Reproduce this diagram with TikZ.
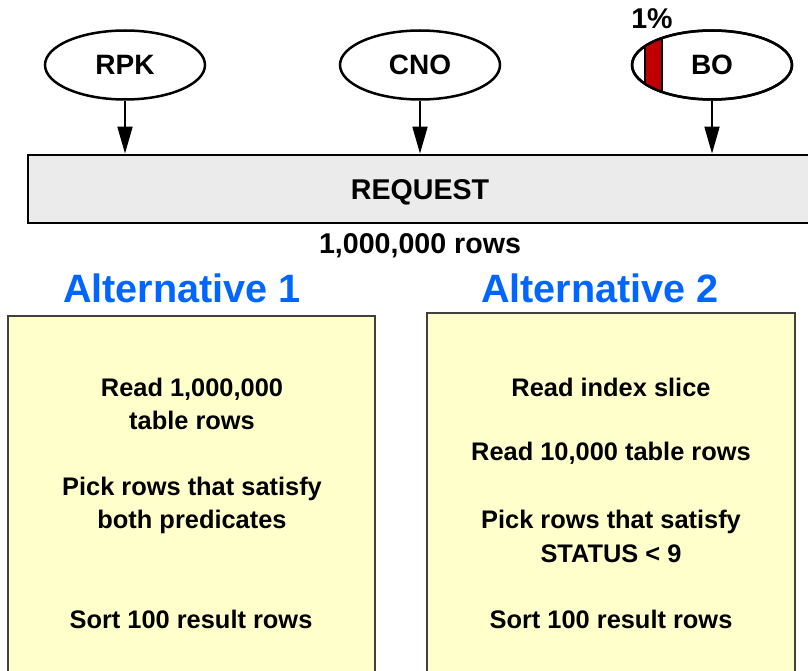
\documentclass[tikz,border=0pt]{standalone}
\usepackage{fontspec}
\setmainfont{Liberation Sans}
\usetikzlibrary{shapes.geometric,arrows.meta}
\definecolor{reqgray}{HTML}{EBEBEB}
\definecolor{noteyellow}{HTML}{FFFFCC}
\definecolor{altblue}{HTML}{0066FF}
\definecolor{sliceRed}{HTML}{C00000}
\begin{document}
\begin{tikzpicture}[x=1pt,y=-1pt,
  keycol/.style={ellipse, draw, line width=2.5pt, fill=white,
    minimum width=160pt, minimum height=69pt, inner sep=0pt,
    font=\fontsize{28}{30}\selectfont\bfseries},
  feed/.style={line width=1.8pt, -{Triangle[length=27pt,width=15pt]}},
  bigtext/.style={font=\fontsize{28.6}{31}\selectfont\bfseries},
  alttitle/.style={text=altblue, font=\fontsize{39.6}{44}\selectfont\bfseries},
  planbox/.style={draw=black!75, line width=1.3pt, fill=noteyellow},
  steptext/.style={align=center, font=\fontsize{25.4}{33.5}\selectfont\bfseries}
]
\useasboundingbox (0,0) rectangle (808,671);
\clip (0,0) rectangle (808,671);

% the request bar (runs off the right edge)
\node[draw, line width=2.8pt, fill=reqgray, minimum width=802pt,
      minimum height=68pt, inner sep=0pt] (request) at (429,189) {};
\node[bigtext] (reqlabel) at (420,192) {REQUEST};
\node[bigtext] (rows) at (420,246) {1,000,000 rows};

% key columns
\node[keycol] (rpk) at (125,65) {RPK};
\node[keycol] (cno) at (420,65) {CNO};
\node[keycol] (bo) at (712,65) {BO};

% 1% filter factor slice on BO
\begin{scope}
  \clip (bo.center) ellipse [x radius=80pt, y radius=34.5pt];
  \fill[sliceRed] (645,20) rectangle (662,110);
  \draw[line width=1.5pt] (645,20) -- (645,110) (662,20) -- (662,110);
\end{scope}
\draw[line width=2.5pt] (bo.center) ellipse [x radius=80pt, y radius=34.5pt];
\node[bigtext] (pct) at (652,19) {1\%};

\draw[feed] (rpk.south) -- (rpk.south |- request.north);
\draw[feed] (cno.south) -- (cno.south |- request.north);
\draw[feed] (bo.south) -- (bo.south |- request.north);

% alternatives
\node[alttitle] (alt1) at (182,288) {Alternative 1};
\node[alttitle] (alt2) at (600,288) {Alternative 2};

\draw[planbox] (8,316) rectangle (375,690);
\draw[planbox] (427,313) rectangle (795,690);

\node[steptext] (a1s1) at (192,404) {Read 1,000,000\\ table rows};
\node[steptext] (a1s2) at (192,505.5) {Pick rows that satisfy\\both predicates};
\node[steptext] (a1s3) at (191,619) {Sort 100 result rows};

\node[steptext] (a2s1) at (611,387) {Read index slice};
\node[steptext] (a2s2) at (611,453) {Read 10,000 table rows};
\node[steptext] (a2s3) at (611,536.5) {Pick rows that satisfy\\STATUS < 9};
\node[steptext] (a2s4) at (611,619) {Sort 100 result rows};
\end{tikzpicture}
\end{document}
